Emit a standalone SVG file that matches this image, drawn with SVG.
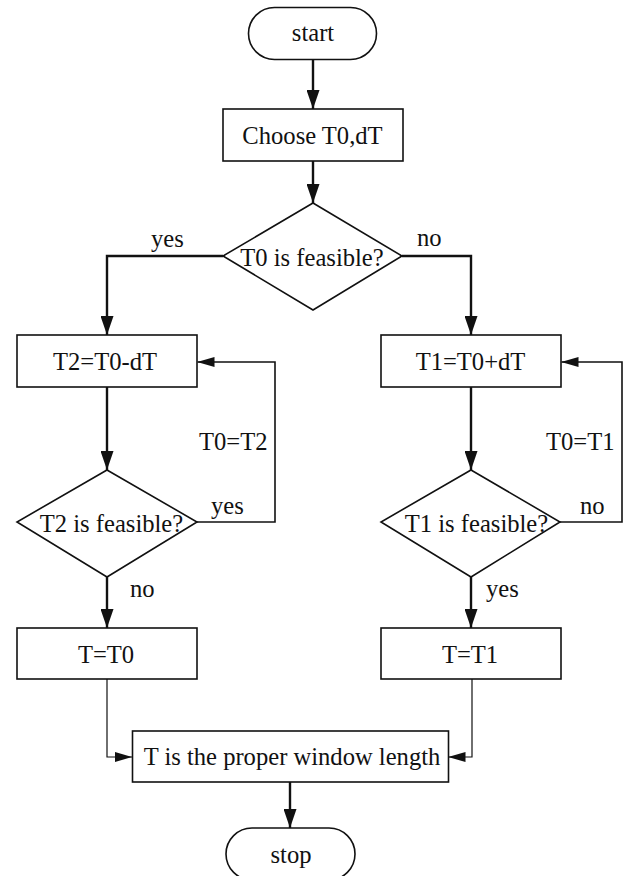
<svg xmlns="http://www.w3.org/2000/svg" width="629" height="876" viewBox="0 0 629 876">
<style>
.n{fill:#fff;stroke:#111;stroke-width:1.6}
.t{font-family:"Liberation Serif","Times New Roman",serif;font-size:24.6px;fill:#111;text-anchor:middle}
.l{font-family:"Liberation Serif","Times New Roman",serif;font-size:24.6px;fill:#111}
.c{fill:none;stroke:#111;stroke-width:2.4}
.c2{fill:none;stroke:#111;stroke-width:1.6}
.c3{fill:none;stroke:#111;stroke-width:1.2}
</style>
<defs>
<marker id="ab" markerUnits="userSpaceOnUse" viewBox="0 0 19 13" refX="19" refY="6.5" markerWidth="19" markerHeight="13" orient="auto"><path d="M0,0 L19,6.5 L0,13 z" fill="#111"/></marker>
<marker id="as" markerUnits="userSpaceOnUse" viewBox="0 0 17 10" refX="17" refY="5" markerWidth="17" markerHeight="10" orient="auto"><path d="M0,0 L17,5 L0,10 z" fill="#111"/></marker>
</defs>
<rect width="629" height="876" fill="#fff"/>
<g id="connectors">
<path class="c" d="M313,59 V109" marker-end="url(#ab)"/>
<path class="c" d="M313,161 V203" marker-end="url(#ab)"/>
<path class="c" d="M223,256 H107 V335" marker-end="url(#ab)"/>
<path class="c" d="M402,256 H471 V335" marker-end="url(#ab)"/>
<path class="c" d="M107,387 V470" marker-end="url(#ab)"/>
<path class="c2" d="M197,522 H275 V362 H197.5" marker-end="url(#as)"/>
<path class="c" d="M107,577 V628" marker-end="url(#ab)"/>
<path class="c" d="M471,387 V470" marker-end="url(#ab)"/>
<path class="c2" d="M560,522 H622 V362 H561.5" marker-end="url(#as)"/>
<path class="c" d="M471,577 V628" marker-end="url(#ab)"/>
<path class="c3" d="M107,679 V757 H132" marker-end="url(#as)"/>
<path class="c3" d="M472,679 V757 H448.5" marker-end="url(#as)"/>
<path class="c" d="M290,782 V828" marker-end="url(#ab)"/>
<text class="l" x="151" y="247">yes</text>
<text class="l" x="417" y="246">no</text>
<text class="l" x="199" y="450">T0=T2</text>
<text class="l" x="211" y="514">yes</text>
<text class="l" x="130" y="597">no</text>
<text class="l" x="546" y="450">T0=T1</text>
<text class="l" x="580" y="514">no</text>
<text class="l" x="486" y="597">yes</text>
</g>
<g id="start">
<rect class="n" x="248.5" y="7.5" width="128" height="52" rx="26" ry="26"/>
<text class="t" x="313" y="41">start</text>
</g>
<g id="choose">
<rect class="n" x="223" y="109" width="180" height="52"/>
<text class="t" x="312.5" y="144">Choose T0,dT</text>
</g>
<g id="d1">
<polygon class="n" points="313,203 402,256 313,310 223,256"/>
<text class="t" x="312" y="266">T0 is feasible?</text>
</g>
<g id="t2box">
<rect class="n" x="17" y="335" width="180" height="52"/>
<text class="t" x="105" y="370">T2=T0-dT</text>
</g>
<g id="d2">
<polygon class="n" points="107,470 197,522 107,577 17,522"/>
<text class="t" x="111.5" y="532">T2 is feasible?</text>
</g>
<g id="t1box">
<rect class="n" x="381" y="335" width="180" height="52"/>
<text class="t" x="470.5" y="370">T1=T0+dT</text>
</g>
<g id="d3">
<polygon class="n" points="471,470 560,522 471,577 381,522"/>
<text class="t" x="476.5" y="532">T1 is feasible?</text>
</g>
<g id="tt0">
<rect class="n" x="17" y="628" width="180" height="51"/>
<text class="t" x="106" y="663">T=T0</text>
</g>
<g id="tt1">
<rect class="n" x="381" y="628" width="180" height="51"/>
<text class="t" x="470" y="663">T=T1</text>
</g>
<g id="final">
<rect class="n" x="132.5" y="731" width="316" height="51"/>
<text class="t" x="292" y="765">T is the proper window length</text>
</g>
<g id="stop">
<rect class="n" x="226" y="828" width="129" height="52" rx="26" ry="26"/>
<text class="t" x="291" y="863">stop</text>
</g>
</svg>
